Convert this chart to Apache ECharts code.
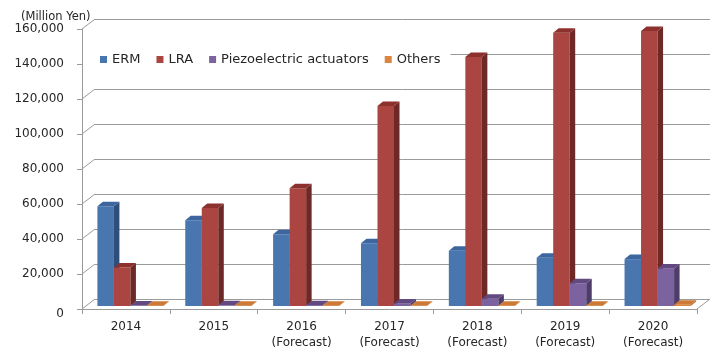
<!DOCTYPE html>
<html>
<head>
<meta charset="utf-8">
<script src="https://cdn.jsdelivr.net/npm/echarts@6/dist/echarts.min.js"></script>
<style>
html,body{margin:0;padding:0;background:#fff;}
#c{width:723px;height:356px;}
</style>
</head>
<body>
<div id="c"></div>
<script>
// ---- data ----
const categories = ['2014', '2015', '2016\n(Forecast)', '2017\n(Forecast)', '2018\n(Forecast)', '2019\n(Forecast)', '2020\n(Forecast)'];
const seriesNames = ['ERM', 'LRA', 'Piezoelectric actuators', 'Others'];
const ermValues = [57000, 49000, 41000, 35800, 31600, 27600, 26800];
const lraValues = [22000, 56000, 67300, 114300, 142300, 156200, 157100];
const piezoValues = [300, 400, 500, 1500, 4200, 13000, 21500];
const othersValues = [200, 200, 200, 200, 200, 200, 700];
const yTicks = [0, 20000, 40000, 60000, 80000, 100000, 120000, 140000, 160000];
const yMax = 160000;
const yStep = 20000;

// ---- styles ----
const FONT = 'DejaVu Sans';
const TEXT = '#262626';
const LINE = '#9a9a9a';
const WALL_DX = 13, WALL_DY = 10;     // depth of the floor / walls
const BAR_SHIFT_X = 4.5, BAR_SHIFT_Y = 3; // bar front plane behind the front edge
const BAR_DX = 5.5, BAR_DY = 4.5;     // bar depth
const BAR_FRAC = 0.188;               // bar width as share of category

const palette = [
  { front: '#4A76AF', side: '#2E4E7B', top: '#3D669F' },
  { front: '#AA4542', side: '#6E2927', top: '#8C312E' },
  { front: '#7D62A0', side: '#4E3C6A', top: '#62497F' },
  { front: '#DA8640', side: '#A05E25', top: '#CC7A35' }
];

function makeBar(name, values, pos, col) {
  return {
    name: name,
    type: 'custom',
    xAxisIndex: 0, yAxisIndex: 0,
    z: 3 + pos,
    itemStyle: { color: col.front },
    encode: { x: 0, y: 1 },
    data: values.map((v, i) => [i, v]),
    renderItem: function (params, api) {
      const ci = api.value(0), v = api.value(1);
      const base = api.coord([ci, 0]);
      const topP = api.coord([ci, v]);
      const cw = api.size([1, 0])[0];
      const bw = cw * BAR_FRAC;
      const x = base[0] + (pos - 2) * bw + BAR_SHIFT_X;
      const yb = base[1] - BAR_SHIFT_Y;
      const yt = topP[1] - BAR_SHIFT_Y;
      return {
        type: 'group',
        children: [
          { type: 'rect', shape: { x: x, y: yt, width: bw, height: yb - yt }, style: { fill: col.front } },
          { type: 'polygon', shape: { points: [[x + bw, yt], [x + bw + BAR_DX, yt - BAR_DY], [x + bw + BAR_DX, yb - BAR_DY], [x + bw, yb]] }, style: { fill: col.side } },
          { type: 'polygon', shape: { points: [[x, yt], [x + BAR_DX, yt - BAR_DY], [x + bw + BAR_DX, yt - BAR_DY], [x + bw, yt]] }, style: { fill: col.top } }
        ]
      };
    }
  };
}

const chart = echarts.init(document.getElementById('c'), null, { renderer: 'canvas' });

const option = {
  animation: false,
  backgroundColor: '#fff',
  textStyle: { fontFamily: FONT },
  title: {
    text: '(Million Yen)',
    left: 16, top: 6,
    textStyle: { fontFamily: FONT, fontSize: 11.5, fontWeight: 'normal', color: TEXT }
  },
  legend: {
    data: seriesNames,
    left: 83, top: 31, z: 20,
    padding: [22, 10, 23, 17],
    backgroundColor: '#ffffff',
    itemGap: 16, itemWidth: 7, itemHeight: 7,
    icon: 'rect',
    textStyle: { fontFamily: FONT, fontSize: 13, color: TEXT }
  },
  grid: [
    { left: 82, top: 29, width: 615, height: 280 },   // front plane
    { left: 95, top: 19, width: 615, height: 280 }    // back wall
  ],
  xAxis: [
    {
      gridIndex: 0, type: 'category', data: categories,
      axisLine: { lineStyle: { color: LINE } },
      axisTick: { show: true, length: 5, lineStyle: { color: LINE } },
      axisLabel: { color: TEXT, fontFamily: FONT, fontSize: 12, margin: 10, lineHeight: 16 },
      splitLine: { show: false }
    },
    {
      gridIndex: 1, type: 'value', min: 0, max: 1,
      axisLine: { show: false }, axisTick: { show: false }, axisLabel: { show: false },
      splitLine: { show: false }
    }
  ],
  yAxis: [
    {
      gridIndex: 0, type: 'value', min: 0, max: yMax, interval: yStep,
      axisLine: { show: true, lineStyle: { color: LINE } },
      axisTick: { show: true, length: 5, lineStyle: { color: LINE } },
      axisLabel: {
        color: TEXT, fontFamily: FONT, fontSize: 12, margin: 18,
        formatter: v => v === 0 ? '{z|0}' : v.toLocaleString('en-US'),
        rich: { z: { fontFamily: FONT, fontSize: 12, color: TEXT, padding: [9, 0, 0, 0] } }
      },
      splitLine: { show: false }
    },
    {
      gridIndex: 1, type: 'value', min: 0, max: yMax, interval: yStep,
      axisLine: { show: false }, axisTick: { show: false }, axisLabel: { show: false },
      splitLine: { show: true, lineStyle: { color: LINE, width: 1 } }
    }
  ],
  series: [
    {
      name: 'frame', type: 'custom', xAxisIndex: 0, yAxisIndex: 0, z: 1,
      silent: true, clip: false,
      encode: { x: 0, y: 1 },
      data: yTicks.map(v => [0, v]),
      renderItem: function (params, api) {
        const cs = params.coordSys;
        const y = api.coord([0, api.value(1)])[1];
        const kids = [
          { type: 'line', shape: { x1: cs.x, y1: y, x2: cs.x + WALL_DX, y2: y - WALL_DY }, style: { stroke: LINE, lineWidth: 1 } }
        ];
        if (api.value(1) === 0) {
          kids.push({ type: 'line', shape: { x1: cs.x + cs.width, y1: y, x2: cs.x + cs.width + WALL_DX, y2: y - WALL_DY }, style: { stroke: LINE, lineWidth: 1 } });
        }
        return { type: 'group', children: kids };
      }
    },
    makeBar(seriesNames[0], ermValues, 0, palette[0]),
    makeBar(seriesNames[1], lraValues, 1, palette[1]),
    makeBar(seriesNames[2], piezoValues, 2, palette[2]),
    makeBar(seriesNames[3], othersValues, 3, palette[3])
  ]
};

chart.setOption(option);
</script>
</body>
</html>
